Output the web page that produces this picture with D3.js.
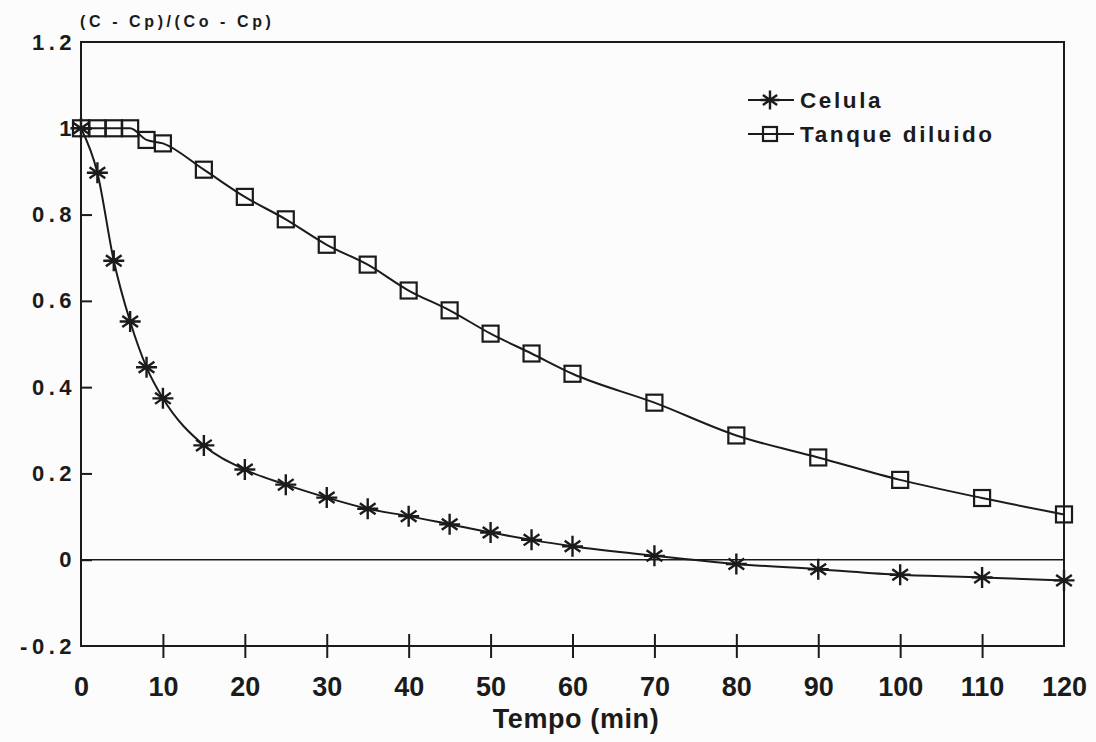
<!DOCTYPE html>
<html>
<head>
<meta charset="utf-8">
<script src="https://cdn.jsdelivr.net/npm/d3@7"></script>
<style>
  html, body { margin: 0; padding: 0; background: #fcfcfc; }
  svg { display: block; }
  text { font-family: "Liberation Sans", Arial, sans-serif; font-weight: bold; fill: #1b1b1b; }
</style>
</head>
<body>
<svg id="chart" width="1096" height="742"></svg>
<script>
// Time samples (min)
const tempo = [0, 2, 4, 6, 8, 10, 15, 20, 25, 30, 35, 40, 45, 50, 55, 60, 70, 80, 90, 100, 110, 120];

// Normalised concentration (C - Cp)/(Co - Cp)
const celula = [1.0, 0.897, 0.693, 0.552, 0.446, 0.374, 0.265, 0.209, 0.174, 0.144, 0.118, 0.101, 0.082, 0.063,
                0.046, 0.031, 0.009, -0.010, -0.022, -0.035, -0.041, -0.048];
const tanque = [1.0, 1.0, 1.0, 1.0, 0.973, 0.965, 0.904, 0.841, 0.789, 0.730, 0.684, 0.624, 0.578, 0.524,
                0.478, 0.431, 0.364, 0.288, 0.237, 0.185, 0.143, 0.105];

const seriesNames = ["Celula", "Tanque diluido"];
const xTicks = [0, 10, 20, 30, 40, 50, 60, 70, 80, 90, 100, 110, 120];
const yTicks = [-0.2, 0, 0.2, 0.4, 0.6, 0.8, 1.0, 1.2];
const yTickLabels = ["-0.2", "0", "0.2", "0.4", "0.6", "0.8", "1", "1.2"];
const xTitle = "Tempo (min)";
const yTitle = "(C - Cp)/(Co - Cp)";

const ink = "#1b1b1b";
const svg = d3.select("#chart");

const x = d3.scaleLinear().domain([0, 120]).range([81, 1064]);
const y = d3.scaleLinear().domain([-0.2, 1.2]).range([646, 42]);

// Frame
const frame = svg.append("g").attr("fill", "none").attr("stroke", ink);
frame.append("rect")
  .attr("x", x(0)).attr("y", y(1.2))
  .attr("width", x(120) - x(0)).attr("height", y(-0.2) - y(1.2))
  .attr("stroke-width", 2);

// Zero reference line
frame.append("line")
  .attr("x1", x(0)).attr("x2", x(120))
  .attr("y1", y(0)).attr("y2", y(0))
  .attr("stroke-width", 1.6);

// Bottom axis: ticks crossing the axis line
const xAxis = d3.axisBottom(x).tickValues(xTicks).tickSize(0).tickPadding(31).tickFormat(d3.format("d"));
const gx = svg.append("g").attr("transform", `translate(0,${y(-0.2)})`).call(xAxis);
gx.select(".domain").remove();
gx.selectAll("text").attr("font-size", 27).attr("fill", ink).style("font-family", "'Liberation Sans', Arial, sans-serif");
gx.selectAll(".tick").filter(d => d > 0 && d < 120).append("line")
  .attr("y1", -12).attr("y2", 12).attr("stroke", ink).attr("stroke-width", 2);

// Left axis: ticks inside the frame
const yAxis = d3.axisLeft(y).tickValues(yTicks).tickSize(0).tickPadding(5)
  .tickFormat((d, i) => yTickLabels[i]);
const gy = svg.append("g").attr("transform", `translate(${x(0)},0)`).call(yAxis);
gy.select(".domain").remove();
gy.selectAll("text").attr("font-size", 22).attr("fill", ink).attr("letter-spacing", 4.5)
  .style("font-family", "'Liberation Sans', Arial, sans-serif");
gy.selectAll(".tick").filter(d => d > -0.2 && d < 1.2).append("line")
  .attr("x1", 0).attr("x2", 11).attr("stroke", ink).attr("stroke-width", 2);

// Axis titles
svg.append("text").attr("x", 576).attr("y", 728).attr("text-anchor", "middle")
  .attr("font-size", 27).attr("letter-spacing", 0.6).text(xTitle);
svg.append("text").attr("x", 80).attr("y", 27).attr("font-size", 16)
  .attr("letter-spacing", 3.6).text(yTitle);

// Curves
const line = d3.line().x(d => x(d[0])).y(d => y(d[1])).curve(d3.curveMonotoneX);
const celulaPts = tempo.map((t, i) => [t, celula[i]]);
const tanquePts = tempo.map((t, i) => [t, tanque[i]]);

svg.append("path").datum(celulaPts).attr("d", line)
  .attr("fill", "none").attr("stroke", ink).attr("stroke-width", 2);
svg.append("path").datum(tanquePts).attr("d", line)
  .attr("fill", "none").attr("stroke", ink).attr("stroke-width", 2);

// Markers
function asterisk(g, cx, cy, r) {
  const a = r * 0.75;
  const d = `M${cx},${cy - r}L${cx},${cy + r}` +
            `M${cx - a},${cy - a * 0.7}L${cx + a},${cy + a * 0.7}` +
            `M${cx - a},${cy + a * 0.7}L${cx + a},${cy - a * 0.7}` +
            `M${cx - r},${cy}L${cx + r},${cy}`;
  g.append("path").attr("d", d).attr("stroke", ink).attr("stroke-width", 2.4).attr("fill", "none");
}
function square(g, cx, cy, s) {
  g.append("rect").attr("x", cx - s / 2).attr("y", cy - s / 2).attr("width", s).attr("height", s)
    .attr("fill", "none").attr("stroke", ink).attr("stroke-width", 2.2);
}

const marks = svg.append("g");
tanquePts.forEach(p => square(marks, x(p[0]), y(p[1]), 16));
celulaPts.forEach(p => asterisk(marks, x(p[0]), y(p[1]), 10.5));

// Legend
const legend = svg.append("g");
const legendRows = [{ name: seriesNames[0], cy: 100, kind: "star" }, { name: seriesNames[1], cy: 134, kind: "sq" }];
legendRows.forEach(r => {
  legend.append("line").attr("x1", 748).attr("x2", 794).attr("y1", r.cy).attr("y2", r.cy)
    .attr("stroke", ink).attr("stroke-width", 2);
  if (r.kind === "star") asterisk(legend, 770, r.cy, 9.5);
  else square(legend, 770, r.cy, 14);
  legend.append("text").attr("x", 800).attr("y", r.cy + 8).attr("font-size", 22.5)
    .attr("letter-spacing", 2.6).text(r.name);
});
</script>
</body>
</html>
